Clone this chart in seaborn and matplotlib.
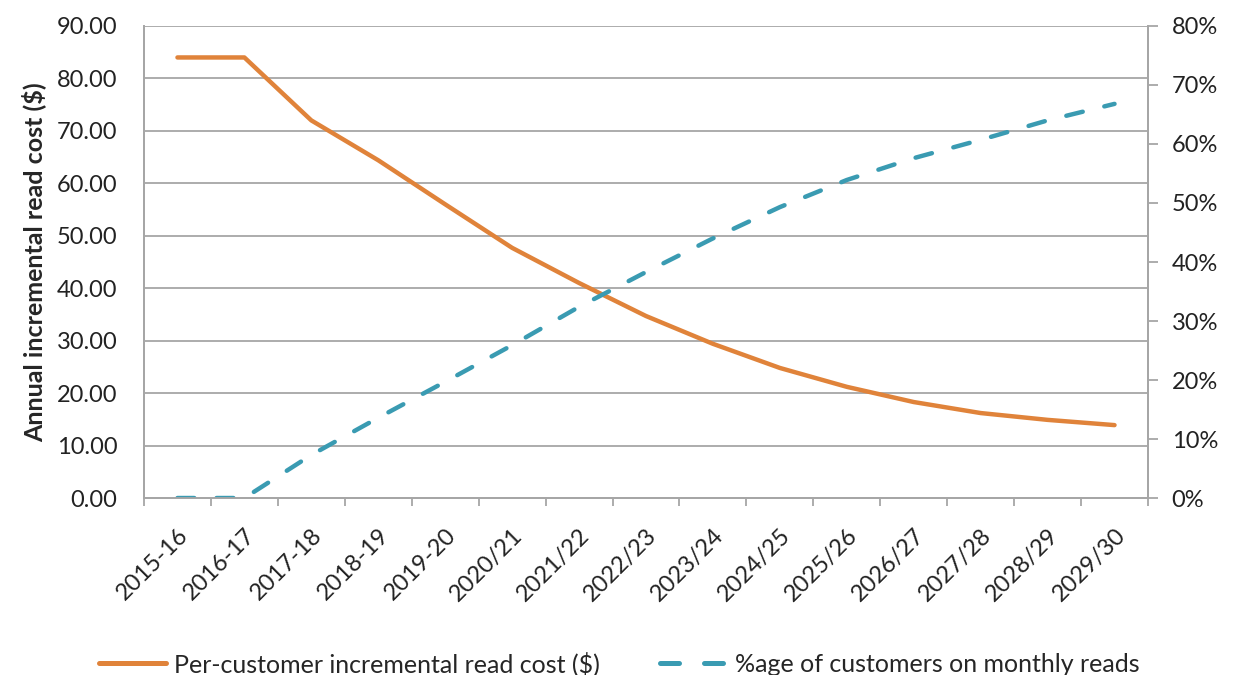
import pandas as pd
import matplotlib.pyplot as plt
import seaborn as sns
from matplotlib.ticker import PercentFormatter, FixedLocator, NullFormatter
from matplotlib.lines import Line2D

# data
years = ['2015-16', '2016-17', '2017-18', '2018-19', '2019-20', '2020/21', '2021/22',
         '2022/23', '2023/24', '2024/25', '2025/26', '2026/27', '2027/28', '2028/29', '2029/30']
read_cost = [84.0, 84.0, 72.0, 64.4, 56.0, 47.7, 41.0, 34.7, 29.4, 24.8, 21.2, 18.3, 16.2, 14.9, 13.9]
pct_monthly = [0.0, 0.0, 0.073, 0.136, 0.197, 0.259, 0.324, 0.383, 0.44, 0.493, 0.539, 0.576, 0.607, 0.64, 0.668]

orange = '#E0833A'
blue = '#3A9BB2'
grid_gray = '#A6A6A6'
dash = (3.8, 5.0)

df = pd.DataFrame({'x': range(len(years)), 'cost': read_cost, 'pct': pct_monthly})

sns.set_style('white')
plt.rcParams['font.family'] = ['Lato', 'DejaVu Sans']

fig = plt.figure(figsize=(12.38, 6.75), dpi=100)
ax = fig.add_axes([0.1163, 0.2622, 0.811, 0.6993])
ax2 = ax.twinx()

sns.lineplot(data=df, x='x', y='cost', ax=ax, color=orange, linewidth=3.2,
             solid_capstyle='round', legend=False)
sns.lineplot(data=df, x='x', y='pct', ax=ax2, color=blue, linewidth=3.2,
             dashes=False, legend=False)
ax2.lines[0].set_dashes(dash)
ax2.lines[0].set_dash_capstyle('round')

# left axis
ax.set_xlim(-0.5, len(years) - 0.5)
ax.set_ylim(0, 90)
ax.set_yticks(range(0, 91, 10))
ax.set_yticklabels([f'{v:.2f}' for v in range(0, 91, 10)])
ax.yaxis.grid(True, color=grid_gray, linewidth=1.3)
ax.set_axisbelow(True)
ax.tick_params(axis='y', length=0, pad=19, labelsize=17, colors='#222222')
ax.set_ylabel('Annual incremental read cost ($)', fontsize=18, fontweight='bold', labelpad=8)

# x ticks: labels at centres, marks at boundaries
ax.set_xticks(range(len(years)))
ax.set_xticklabels(years, rotation=45, ha='right', rotation_mode='anchor', fontsize=17)
ax.xaxis.set_minor_locator(FixedLocator([i - 0.5 for i in range(len(years) + 1)]))
ax.xaxis.set_minor_formatter(NullFormatter())
ax.tick_params(axis='x', which='major', length=0, pad=19, colors='#222222')
ax.tick_params(axis='x', which='minor', length=6, width=1.3, color=grid_gray, bottom=True)
ax.set_xlabel('')

# right axis
ax2.set_ylim(0, 0.8)
ax2.set_yticks([i / 10 for i in range(9)])
ax2.yaxis.set_major_formatter(PercentFormatter(1.0, decimals=0))
ax2.tick_params(axis='y', length=7, width=1.3, pad=10, labelsize=17, colors='#222222')
ax2.tick_params(axis='y', color=grid_gray)
ax2.set_ylabel('')
ax2.grid(False)

for a in (ax, ax2):
    a.spines['top'].set_visible(False)
    for s in ('left', 'right', 'bottom'):
        a.spines[s].set_color(grid_gray)
        a.spines[s].set_linewidth(1.3)

handles = [Line2D([], [], color=orange, linewidth=3.6),
           Line2D([], [], color=blue, linewidth=3.6, dashes=dash, dash_capstyle='round')]
fig.legend(handles, ['Per-customer incremental read cost ($)', '%age of customers on monthly reads'],
           loc='lower center', bbox_to_anchor=(0.5, -0.035), ncol=2, frameon=False,
           fontsize=18, handlelength=2.7, columnspacing=2.4, handletextpad=0.3)

fig.savefig('out.png', dpi=100)
